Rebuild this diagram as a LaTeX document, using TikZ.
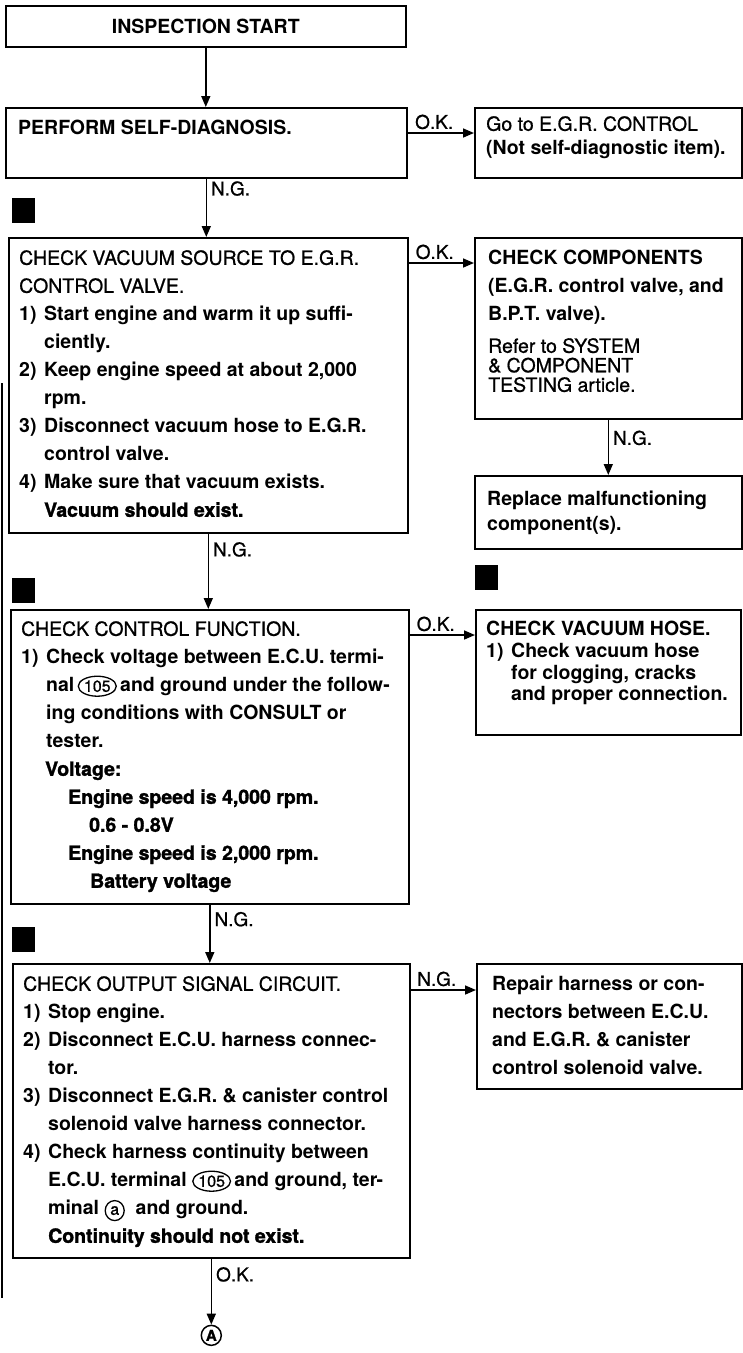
\documentclass[tikz,border=0pt]{standalone}
\usepackage{fontspec}
\setmainfont{TeX Gyre Heros}
\newfontfamily\heavyfont[FakeBold=1.5]{TeX Gyre Heros}
\newfontfamily\medfont[FakeBold=0.8]{TeX Gyre Heros}
\usetikzlibrary{arrows.meta,positioning,shapes.geometric}

\newcommand{\nitem}[2]{\makebox[25pt][l]{#1}#2}
\newcommand{\ncont}[1]{\hspace*{25pt}#1}
\newcommand{\heavy}[1]{{\heavyfont\bfseries #1}}
\newcommand{\med}[1]{{\medfont\mdseries #1}}
\newcommand{\ringed}[2]{\tikz[baseline=(rg.base)]\node[draw, ellipse, line width=1.3pt,
    inner sep=0pt, minimum width=#1, minimum height=20pt,
    font=\fontsize{16}{16}\selectfont\medfont\mdseries] (rg) {#2};}

\begin{document}
\begin{tikzpicture}[x=1pt, y=-1pt,
    box/.style={draw, line width=1.6pt, anchor=north west, inner sep=0pt},
    txt/.style={anchor=north west, align=left, inner sep=0pt,
                font=\fontsize{19.5}{#1}\selectfont\bfseries},
    txt/.default=28,
    lbl/.style={inner sep=0pt, font=\fontsize{19}{19}\selectfont\medfont},
    stepmark/.style={fill=black, anchor=north west, minimum width=23pt,
                     minimum height=25pt, inner sep=0pt},
    arr/.style={-{Triangle[length=11pt,width=9pt]}, line width=1.6pt}
]
\useasboundingbox (0,0) rectangle (743,1353);

% Start
\node[box, minimum width=400pt, minimum height=41pt,
      font=\fontsize{19.5}{24}\selectfont\bfseries] (start) at (5,5) {INSPECTION START};

% Self-diagnosis
\node[box, minimum width=401pt, minimum height=70pt] (diag) at (5,107) {};
\node[txt] (diagT) at (18,120) {PERFORM SELF-DIAGNOSIS.};
\node[box, minimum width=267pt, minimum height=70pt] (egr) at (474,107) {};
\node[txt=24] (egrT) at (486,116) {\med{Go to E.G.R. CONTROL}\\(Not self-diagnostic item).};

% Vacuum source
\node[stepmark] (m2) at (12,198) {};
\node[box, minimum width=399pt, minimum height=295pt] (vac) at (8,237) {};
\node[txt] (vacT) at (19,250) {\med{CHECK VACUUM SOURCE TO E.G.R.}\\
  \med{CONTROL VALVE.}\\
  \nitem{1)}{Start engine and warm it up suffi-}\\
  \ncont{ciently.}\\
  \nitem{2)}{Keep engine speed at about 2,000}\\
  \ncont{rpm.}\\
  \nitem{3)}{Disconnect vacuum hose to E.G.R.}\\
  \ncont{control valve.}\\
  \nitem{4)}{Make sure that vacuum exists.}\\
  \ncont{\heavy{Vacuum should exist.}}};

% Components
\node[box, minimum width=267pt, minimum height=181pt] (comp) at (474,237) {};
\node[txt] (compT) at (488,250) {CHECK COMPONENTS\\(E.G.R. control valve, and\\B.P.T. valve).};
\node[txt=19.5] (compR) at (488,338) {\med{Refer to SYSTEM}\\\med{\& COMPONENT}\\\med{TESTING article.}};
\node[box, minimum width=267pt, minimum height=73pt] (repl) at (474,475) {};
\node[txt=25] (replT) at (487,491) {Replace malfunctioning\\component(s).};

% Control function
\node[stepmark] (m3) at (12,578) {};
\node[stepmark] (m4) at (475,565) {};
\node[box, minimum width=398pt, minimum height=294pt] (ctl) at (10,609) {};
\node[txt] (ctlT) at (21,621) {\med{CHECK CONTROL FUNCTION.}\\
  \nitem{1)}{Check voltage between E.C.U. termi-}\\
  \ncont{nal\,\ringed{38pt}{105}\,and ground under the follow-}\\
  \ncont{ing conditions with CONSULT or}\\
  \ncont{tester.}\\
  \hspace*{24pt}\heavy{Voltage:}\\
  \hspace*{47pt}\heavy{Engine speed is 4,000 rpm.}\\
  \hspace*{68pt}\heavy{0.6 - 0.8V}\\
  \hspace*{47pt}\heavy{Engine speed is 2,000 rpm.}\\
  \hspace*{69pt}\heavy{Battery voltage}};

% Vacuum hose
\node[box, minimum width=265pt, minimum height=125pt] (hose) at (475,609) {};
\node[txt=21.7] (hoseT) at (486,621) {CHECK VACUUM HOSE.\\
  \nitem{1)}{Check vacuum hose}\\
  \ncont{for clogging, cracks}\\
  \ncont{and proper connection.}};

% Output signal
\node[stepmark] (m5) at (12,927) {};
\node[box, minimum width=397pt, minimum height=294pt] (outp) at (12,963) {};
\node[txt] (outT) at (23,976) {\med{CHECK OUTPUT SIGNAL CIRCUIT.}\\
  \nitem{1)}{Stop engine.}\\
  \nitem{2)}{Disconnect E.C.U. harness connec-}\\
  \ncont{tor.}\\
  \nitem{3)}{Disconnect E.G.R. \& canister control}\\
  \ncont{solenoid valve harness connector.}\\
  \nitem{4)}{Check harness continuity between}\\
  \ncont{E.C.U. terminal \ringed{37pt}{105}\,and ground, ter-}\\
  \ncont{minal \ringed{19pt}{a}\ \ and ground.}\\
  \ncont{\heavy{Continuity should not exist.}}};

% Repair
\node[box, minimum width=265pt, minimum height=125pt] (rep) at (476,963) {};
\node[txt] (repT) at (492,976) {Repair harness or con-\\nectors between E.C.U.\\
  and E.G.R. \& canister\\control solenoid valve.};

% End
\node[draw, circle, line width=1.5pt, inner sep=0pt, minimum size=20pt,
      font=\fontsize{15}{15}\selectfont\heavyfont\bfseries, below=66pt of outp.south] (endA) {A};

% Arrows
\draw[arr] (start.south) -- (start.south |- diag.north);
\draw[arr] (diag.south) -- node[lbl, pos=0.17, anchor=west, xshift=4pt] {N.G.} (diag.south |- vac.north);
\draw[arr] (vac.south) -- node[lbl, pos=0.21, anchor=west, xshift=4pt] {N.G.} (vac.south |- ctl.north);
\draw[arr] (ctl.south) -- node[lbl, pos=0.25, anchor=west, xshift=4pt] {N.G.} (ctl.south |- outp.north);
\draw[arr] (outp.south) -- node[lbl, pos=0.24, anchor=west, xshift=4pt] {O.K.} (endA.north);
\draw[arr] (comp.south) -- node[lbl, pos=0.33, anchor=west, xshift=4pt] {N.G.} (comp.south |- repl.north);

\coordinate (ok1) at ([yshift=-26pt]diag.north east);
\coordinate (ok2) at ([yshift=-26pt]vac.north east);
\coordinate (ok3) at ([yshift=-26pt]ctl.north east);
\coordinate (ng4) at ([yshift=-27pt]outp.north east);
\draw[arr] (ok1) -- node[lbl, pos=0.4, above=3pt] {O.K.} (ok1 -| egr.west);
\draw[arr] (ok2) -- node[lbl, pos=0.4, above=3pt] {O.K.} (ok2 -| comp.west);
\draw[arr] (ok3) -- node[lbl, pos=0.4, above=3pt] {O.K.} (ok3 -| hose.west);
\draw[arr] (ng4) -- node[lbl, pos=0.4, above=3pt] {N.G.} (ng4 -| rep.west);

% page edge
\draw[line width=1.2pt] (2,383) -- (2,1298);

\end{tikzpicture}
\end{document}
